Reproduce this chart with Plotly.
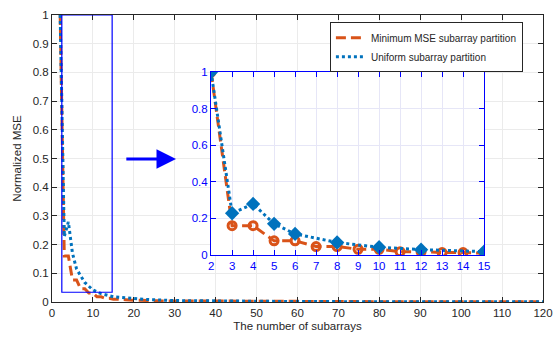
import plotly.graph_objects as go

# ---- data ----
x_min = list(range(2, 121))
mse_min = [
    1.0,
    0.16, 0.16, 0.077, 0.077, 0.046, 0.046, 0.031, 0.031, 0.018, 0.018,
    0.013, 0.013, 0.010, 0.010, 0.008, 0.008, 0.0068, 0.0068, 0.0058, 0.0058,
    0.005, 0.005, 0.0044, 0.0044, 0.0039, 0.0039, 0.0035, 0.0035,
    0.0032, 0.0032, 0.0030, 0.0030, 0.0028, 0.0028, 0.0026, 0.0026, 0.0025, 0.0025,
    0.0024, 0.0024, 0.0023, 0.0023, 0.0022, 0.0022, 0.0021, 0.0021, 0.0020, 0.0020,
    0.0019, 0.0019, 0.0018, 0.0018, 0.0018, 0.0018, 0.0017, 0.0017, 0.0017, 0.0017,
    0.0016, 0.0016, 0.0016, 0.0016, 0.0015, 0.0015, 0.0015, 0.0015, 0.0014, 0.0014,
    0.0014, 0.0014, 0.0013, 0.0013, 0.0013, 0.0013, 0.0013, 0.0013, 0.0012, 0.0012,
    0.0012, 0.0012, 0.0012, 0.0012, 0.0011, 0.0011, 0.0011, 0.0011, 0.0011, 0.0011,
    0.0010, 0.0010, 0.0010, 0.0010, 0.0010, 0.0010, 0.0010, 0.0010, 0.0009, 0.0009,
    0.0009, 0.0009, 0.0009, 0.0009, 0.0009, 0.0009, 0.0009, 0.0009, 0.0008, 0.0008,
    0.0008, 0.0008, 0.0008, 0.0008, 0.0008, 0.0008, 0.0008, 0.0008, 0.0008, 0.0008,
]
x_uni = [2, 3, 4, 5, 6, 8, 10, 12, 15, 20, 24, 30, 40, 60, 120]
mse_uni = [1.0, 0.228, 0.279, 0.17, 0.115, 0.068, 0.042, 0.029, 0.018,
           0.011, 0.008, 0.005, 0.003, 0.0015, 0.0005]

main_xticks = list(range(0, 121, 10))
main_yticks = [0, 0.1, 0.2, 0.3, 0.4, 0.5, 0.6, 0.7, 0.8, 0.9, 1]
inset_xticks = list(range(2, 16))
inset_yticks = [0, 0.2, 0.4, 0.6, 0.8, 1]
zoom_box = dict(x0=2.4, x1=14.7, y0=0.034, y1=1.0)
inset_max_x = 15

ORANGE = "#D95319"
BLUE = "#0072BD"
FONT = "Liberation Sans, Arial, sans-serif"
TXT = "#262626"

fig = go.Figure()

# main traces
fig.add_trace(go.Scatter(x=x_min, y=mse_min, mode="lines",
                         name="Minimum MSE subarray partition",
                         line=dict(color=ORANGE, width=3, dash="10px,5px")))
fig.add_trace(go.Scatter(x=x_uni, y=mse_uni, mode="lines",
                         name="Uniform subarray partition",
                         line=dict(color=BLUE, width=3, dash="3px,3px")))

# inset traces
xi_min = [x for x in x_min if x <= inset_max_x]
yi_min = mse_min[:len(xi_min)]
xi_uni = [x for x in x_uni if x <= inset_max_x]
yi_uni = mse_uni[:len(xi_uni)]
fig.add_trace(go.Scatter(x=xi_min, y=yi_min, mode="lines+markers", showlegend=False,
                         xaxis="x2", yaxis="y2",
                         line=dict(color=ORANGE, width=3, dash="10px,5px"),
                         marker=dict(symbol="circle-open", size=8, color=ORANGE,
                                     line=dict(width=3, color=ORANGE))))
fig.add_trace(go.Scatter(x=xi_uni, y=yi_uni, mode="lines+markers", showlegend=False,
                         xaxis="x2", yaxis="y2",
                         line=dict(color=BLUE, width=3, dash="3px,3px"),
                         marker=dict(symbol="diamond", size=11, color=BLUE)))

fig.update_layout(
    width=557, height=337,
    margin=dict(l=52, r=14, t=15, b=35),
    paper_bgcolor="white", plot_bgcolor="white",
    font=dict(family=FONT, size=11, color=TXT),
    xaxis=dict(domain=[0, 1], range=[0, 120], tickvals=main_xticks, automargin=False,
               showgrid=True, gridcolor="#EBEBEB", gridwidth=1,
               showline=True, linecolor="#262626", linewidth=1, mirror="ticks",
               ticks="inside", ticklen=5, tickcolor="#262626",
               zeroline=False,
               title=dict(text="The number of subarrays", font=dict(size=11.5, color=TXT), standoff=4),
               tickfont=dict(size=11.5, color=TXT)),
    yaxis=dict(domain=[0, 1], range=[0, 1], tickvals=main_yticks, automargin=False,
               showgrid=True, gridcolor="#EBEBEB", gridwidth=1,
               showline=True, linecolor="#262626", linewidth=1, mirror="ticks",
               ticks="inside", ticklen=5, tickcolor="#262626",
               zeroline=False,
               title=dict(text="Normalized MSE", font=dict(size=11.5, color=TXT), standoff=8),
               tickfont=dict(size=11.5, color=TXT)),
    xaxis2=dict(domain=[0.324, 0.880], range=[2, 15], anchor="y2", tickvals=inset_xticks,
                automargin=False,
                showgrid=True, gridcolor="#E6E6F7", gridwidth=1,
                showline=True, linecolor="#0000FF", linewidth=1.3, mirror="ticks",
                ticks="inside", ticklen=5, tickcolor="#0000FF", zeroline=False,
                tickfont=dict(size=11.5, color="#0000FF")),
    yaxis2=dict(domain=[0.164, 0.801], range=[0, 1], anchor="x2", tickvals=inset_yticks,
                automargin=False,
                showgrid=True, gridcolor="#E6E6F7", gridwidth=1,
                showline=True, linecolor="#0000FF", linewidth=1.3, mirror="ticks",
                ticks="inside", ticklen=5, tickcolor="#0000FF", zeroline=False,
                tickfont=dict(size=11.5, color="#0000FF")),
    legend=dict(x=0.566, y=0.975, xanchor="left", yanchor="top",
                bgcolor="white", bordercolor="#262626", borderwidth=1,
                font=dict(size=10, color=TXT), tracegroupgap=0,
                itemwidth=30),
    shapes=[dict(type="rect", xref="x", yref="y", **zoom_box,
                 line=dict(color="#0000FF", width=1.2), layer="above")],
    annotations=[dict(x=30.3, y=0.498, ax=17.8, ay=0.498, xref="x", yref="y",
                      axref="x", ayref="y", showarrow=True, arrowhead=2,
                      arrowsize=1.3, arrowwidth=3, arrowcolor="#0000FF", text="")],
)

fig.write_html("out.html", config={"displayModeBar": False},
               post_script="document.body.style.margin='0';document.body.style.overflow='hidden';")
